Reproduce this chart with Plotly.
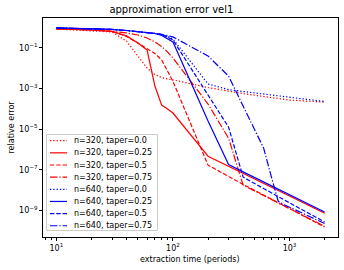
import plotly.graph_objects as go

# ---------------- data ----------------
time_periods = [10, 20, 30, 40, 50, 60, 70, 80, 90, 100,
                200, 300, 400, 500, 600, 700, 800, 900, 1000, 2000]

err_n320_taper000 = [0.83, 0.70, 0.59, 0.21, 0.039, 0.010, 4.8e-3, 3.4e-3, 2.9e-3, 2.6e-3,
                     1.1e-3, 7.1e-4, 5.5e-4, 4.6e-4, 3.9e-4, 3.5e-4, 3.15e-4, 2.9e-4, 2.65e-4, 2.1e-4]
err_n320_taper025 = [0.83, 0.76, 0.63, 0.38, 0.17, 0.077, 1.3e-3, 1.5e-4, 9.6e-5, 6.1e-5,
                     4.6e-7, 1.5e-7, 6.6e-8, 3.6e-8, 2.1e-8, 1.4e-8, 9.5e-9, 6.8e-9, 5.1e-9, 7.2e-10]
err_n320_taper050 = [0.83, 0.76, 0.63, 0.36, 0.17, 0.091, 0.052, 0.025, 6.7e-3, 2.2e-3,
                     1.67e-7, 4.5e-8, 1.9e-8, 9.8e-9, 5.7e-9, 3.5e-9, 2.37e-9, 1.67e-9, 1.21e-9, 1.52e-10]
err_n320_taper075 = [0.83, 0.76, 0.63, 0.53, 0.42, 0.30, 0.19, 0.115, 0.061, 0.031,
                     1.69e-4, 3.56e-6, 1.73e-8, 9.0e-9, 5.4e-9, 3.4e-9, 2.3e-9, 1.67e-9, 1.23e-9, 1.65e-10]
err_n640_taper000 = [0.935, 0.88, 0.79, 0.70, 0.63, 0.56, 0.50, 0.45, 0.34, 0.27,
                     1.63e-3, 8.7e-4, 7.0e-4, 6.0e-4, 5.3e-4, 4.7e-4, 4.3e-4, 4.0e-4, 3.7e-4, 2.26e-4]
err_n640_taper025 = [0.935, 0.88, 0.79, 0.70, 0.63, 0.56, 0.50, 0.40, 0.28, 0.19,
                     2.45e-5, 1.8e-7, 7.8e-8, 4.1e-8, 2.5e-8, 1.6e-8, 1.1e-8, 7.9e-9, 5.9e-9, 8.3e-10]
err_n640_taper050 = [0.935, 0.88, 0.79, 0.70, 0.63, 0.56, 0.50, 0.45, 0.32, 0.24,
                     4.7e-4, 1.24e-5, 4.3e-8, 2.1e-8, 1.19e-8, 7.2e-9, 4.7e-9, 3.3e-9, 2.34e-9, 2.7e-10]
err_n640_taper075 = [0.935, 0.88, 0.79, 0.70, 0.63, 0.56, 0.50, 0.45, 0.40, 0.34,
                     0.039, 4.0e-3, 1.34e-4, 9.9e-6, 1.15e-6, 4.3e-8, 2.8e-9, 1.9e-9, 1.42e-9, 2.24e-10]

series_labels = ["n=320, taper=0.0", "n=320, taper=0.25", "n=320, taper=0.5", "n=320, taper=0.75",
                 "n=640, taper=0.0", "n=640, taper=0.25", "n=640, taper=0.5", "n=640, taper=0.75"]
series_values = [err_n320_taper000, err_n320_taper025, err_n320_taper050, err_n320_taper075,
                 err_n640_taper000, err_n640_taper025, err_n640_taper050, err_n640_taper075]

x_tick_vals = [10, 100, 1000]
x_tick_text = ["10<sup>1</sup>", "10<sup>2</sup>", "10<sup>3</sup>"]
x_minor_vals = [2, 3, 4, 5, 6, 7, 8, 9, 20, 30, 40, 50, 60, 70, 80, 90,
                200, 300, 400, 500, 600, 700, 800, 900, 2000, 3000]
y_tick_vals = [1e-9, 1e-7, 1e-5, 1e-3, 1e-1]
y_tick_text = ["10<sup>\u22129</sup>", "10<sup>\u22127</sup>", "10<sup>\u22125</sup>",
               "10<sup>\u22123</sup>", "10<sup>\u22121</sup>"]

# ---------------- styles ----------------
colors = ["#ff0000"] * 4 + ["#0000ff"] * 4
DOT = "1.3px,2.0px"
DASH = "4.4px,1.9px"
DASHDOT = "7.5px,1.9px,1.3px,1.9px"
dashes = [DOT, "solid", DASH, DASHDOT] * 2
LW = 1.2

FONT = "DejaVu Sans"
W, H = 344, 270
PL, PR, PT, PB = 43, 6, 18, 33
PW, PH = W - PL - PR, H - PT - PB


def fx(px):
    return (px - PL) / PW


def fy(py):
    return (PT + PH - py) / PH


fig = go.Figure()
for lab, vals, col, dsh in zip(series_labels, series_values, colors, dashes):
    fig.add_trace(go.Scatter(x=time_periods, y=vals, mode="lines", name=lab,
                             line=dict(color=col, width=LW, dash=dsh),
                             showlegend=False))

# ---------------- custom compact legend (matplotlib-like) ----------------
shapes = [dict(type="rect", xref="paper", yref="paper",
               x0=fx(46.5), x1=fx(157.5), y0=fy(230.5), y1=fy(134.5),
               line=dict(color="#cccccc", width=1), fillcolor="rgba(255,255,255,0.8)",
               layer="above")]
annotations = []
for i, (lab, col, dsh) in enumerate(zip(series_labels, colors, dashes)):
    yc = 140.7 + 12.15 * i
    shapes.append(dict(type="line", xref="paper", yref="paper",
                       x0=fx(50), x1=fx(67), y0=fy(yc), y1=fy(yc),
                       line=dict(color=col, width=LW, dash=dsh), layer="above"))
    annotations.append(dict(text=lab, xref="paper", yref="paper", x=fx(72), y=fy(yc),
                            xanchor="left", yanchor="middle", showarrow=False,
                            font=dict(family=FONT, size=8, color="black")))

# axis titles placed like the reference
annotations.append(dict(text="extraction time (periods)", xref="paper", yref="paper",
                        x=fx(190), y=fy(259.5), xanchor="center", yanchor="middle",
                        showarrow=False, font=dict(family=FONT, size=8, color="black")))
annotations.append(dict(text="relative error", xref="paper", yref="paper",
                        x=fx(10.5), y=fy(127), xanchor="center", yanchor="middle",
                        textangle=-90, showarrow=False,
                        font=dict(family=FONT, size=8, color="black")))

axis_common = dict(type="log", showline=True, mirror=True, linecolor="black", linewidth=0.8,
                   ticks="outside", ticklen=3, tickwidth=0.8, tickcolor="black",
                   showgrid=False, zeroline=False, automargin=False,
                   tickfont=dict(family=FONT, size=8, color="black"))

fig.update_layout(
    width=W, height=H,
    margin=dict(l=PL, r=PR, t=PT, b=PB),
    paper_bgcolor="white", plot_bgcolor="white",
    title=dict(text="approximation error vel1", x=fx(190), xanchor="center",
               y=1 - 9.5 / H, yanchor="middle", yref="container",
               font=dict(family=FONT, size=10, color="black")),
    xaxis=dict(axis_common, range=[0.885, 3.416], tickmode="array",
               tickvals=x_tick_vals, ticktext=x_tick_text,
               minor=dict(tickmode="array", tickvals=x_minor_vals, ticks="outside",
                          ticklen=1.8, tickwidth=0.6, tickcolor="black", showgrid=False)),
    yaxis=dict(axis_common, range=[-10.31, 0.46], tickmode="array",
               tickvals=y_tick_vals, ticktext=y_tick_text),
    shapes=shapes,
    annotations=annotations,
    showlegend=False,
)

fig.write_html("out.html",
               config={"displayModeBar": False},
               post_script="document.body.style.margin='0';document.body.style.overflow='hidden';")
